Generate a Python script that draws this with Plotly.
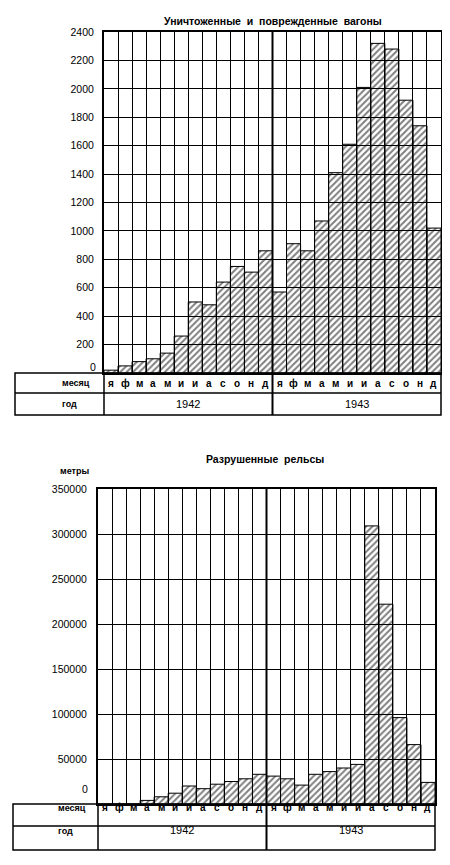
import plotly.graph_objects as go

# page body has an 8px margin; the figure is sized so that it fits in the 450x865 window
OFF = 8
W, H = 450 - 2 * OFF, 865 - 2 * OFF

months = ["я", "ф", "м", "а", "м", "и", "и", "а", "с", "о", "н", "д"]
years = ["1942", "1943"]
month_labels = months + months

wagons = [20, 50, 80, 100, 140, 260, 500, 480, 640, 750, 710, 860,
          570, 910, 860, 1070, 1410, 1610, 2010, 2320, 2280, 1920, 1740, 1020]
rails = [0, 0, 0, 4000, 8000, 12000, 20000, 17000, 22000, 25000, 28000, 33000,
         31000, 28000, 21000, 33000, 36000, 40000, 44000, 309000, 222000, 96000, 66000, 24000]

wagon_ticks = [0, 200, 400, 600, 800, 1000, 1200, 1400, 1600, 1800, 2000, 2200, 2400]
rail_ticks = [0, 50000, 100000, 150000, 200000, 250000, 300000, 350000]

title_top = "Уничтоженные  и  поврежденные  вагоны"
title_bot = "Разрушенные  рельсы"
unit_bot = "метры"
row_month = "месяц"
row_year = "год"

FONT = "Liberation Sans"


def px(x):
    return (x - OFF) / W


def py(y):
    return 1 - (y - OFF) / H


# pixel geometry (window coordinates) of the two panels
top = dict(x0=104, x1=441, y0=32, y1=373, tx0=15, trow=393, tbot=415, zero_y=367, zero_x=98)
bot = dict(x0=98, x1=435, y0=489, y1=804, tx0=13, trow=826, tbot=850, zero_y=797, zero_x=90)

xs = list(range(len(wagons)))
fig = go.Figure()

pattern = dict(shape="/", fgcolor="black", bgcolor="rgba(0,0,0,0)", size=4.5, solidity=0.45)
fig.add_trace(go.Bar(x=xs, y=wagons, width=1, xaxis="x", yaxis="y",
                     marker=dict(color="rgba(0,0,0,0)", line=dict(color="black", width=1), pattern=pattern),
                     showlegend=False, hoverinfo="skip"))
fig.add_trace(go.Bar(x=xs, y=rails, width=1, xaxis="x2", yaxis="y2",
                     marker=dict(color="rgba(0,0,0,0)", line=dict(color="black", width=1), pattern=pattern),
                     showlegend=False, hoverinfo="skip"))

bounds = [i - 0.5 for i in range(len(xs) + 1)]
xcommon = dict(range=[-0.5, len(xs) - 0.5], tickmode="array", tickvals=bounds, showticklabels=False,
               ticks="", showgrid=True, gridcolor="black", gridwidth=1, zeroline=False,
               showline=True, linecolor="black", linewidth=2, mirror=True, fixedrange=True)
ycommon = dict(showgrid=True, gridcolor="black", gridwidth=1, zeroline=False, ticks="",
               showline=True, linecolor="black", linewidth=2, mirror=True, tickmode="array",
               tickfont=dict(family=FONT, size=10.5, color="black"), tickformat="d", fixedrange=True)

fig.update_layout(
    width=W, height=H, autosize=False,
    margin=dict(l=0, r=0, t=0, b=0, autoexpand=False),
    paper_bgcolor="white", plot_bgcolor="white",
    barmode="overlay",
    xaxis=dict(domain=[px(top["x0"]), px(top["x1"])], anchor="y", **xcommon),
    yaxis=dict(domain=[py(top["y1"]), py(top["y0"])], anchor="x", range=[0, max(wagon_ticks)],
               tickvals=wagon_ticks[1:], ticklabelstandoff=6, **ycommon),
    xaxis2=dict(domain=[px(bot["x0"]), px(bot["x1"])], anchor="y2", **xcommon),
    yaxis2=dict(domain=[py(bot["y1"]), py(bot["y0"])], anchor="x2", range=[0, max(rail_ticks)],
                tickvals=rail_ticks[1:], ticklabelstandoff=7, **ycommon),
)

shapes = []
annotations = []
for g, xa, ticks in ((top, "x", wagon_ticks), (bot, "x2", rail_ticks)):
    lw = dict(color="black", width=1.5)
    # table frame
    shapes.append(dict(type="rect", xref="paper", yref="paper", x0=px(g["tx0"]), x1=px(g["x1"]),
                       y0=py(g["tbot"]), y1=py(g["y1"]), line=lw, fillcolor="rgba(0,0,0,0)"))
    shapes.append(dict(type="line", xref="paper", yref="paper", x0=px(g["tx0"]), x1=px(g["x1"]),
                       y0=py(g["trow"]), y1=py(g["trow"]), line=lw))
    shapes.append(dict(type="line", xref="paper", yref="paper", x0=px(g["x0"]), x1=px(g["x0"]),
                       y0=py(g["tbot"]), y1=py(g["y1"]), line=lw))
    # year divider through plot and table
    shapes.append(dict(type="line", xref=xa, yref="paper", x0=11.5, x1=11.5,
                       y0=py(g["tbot"]), y1=py(g["y0"]), line=dict(color="black", width=2)))
    ym = py((g["y1"] + g["trow"]) / 2)
    yy = py((g["trow"] + g["tbot"]) / 2)
    for i, m in enumerate(month_labels):
        annotations.append(dict(x=xs[i], y=ym, xref=xa, yref="paper", text="<b>%s</b>" % m,
                                showarrow=False, font=dict(family=FONT, size=10, color="black")))
    for j, yr in enumerate(years):
        annotations.append(dict(x=5.5 + 12 * j, y=yy, xref=xa, yref="paper", text=yr,
                                showarrow=False, font=dict(family=FONT, size=11, color="black")))
    lc = px((g["tx0"] + g["x0"]) / 2)
    annotations.append(dict(x=lc, y=ym, xref="paper", yref="paper", text="<b>%s</b>" % row_month,
                            showarrow=False, font=dict(family=FONT, size=9, color="black")))
    annotations.append(dict(x=lc, y=yy, xref="paper", yref="paper", text="<b>%s</b>" % row_year,
                            showarrow=False, font=dict(family=FONT, size=9, color="black")))
    # the zero label sits slightly above the baseline in the original
    annotations.append(dict(x=px(g["zero_x"]), y=py(g["zero_y"]), xref="paper", yref="paper",
                            text=str(ticks[0]), xanchor="right", showarrow=False,
                            font=dict(family=FONT, size=10.5, color="black")))

annotations.append(dict(x=px(273), y=py(13), xref="paper", yref="paper",
                        text="<b>%s</b>" % title_top.replace(" ", "\u00a0"),
                        showarrow=False, font=dict(family=FONT, size=10.5, color="black")))
annotations.append(dict(x=px(265), y=py(459), xref="paper", yref="paper",
                        text="<b>%s</b>" % title_bot.replace(" ", "\u00a0"),
                        showarrow=False, font=dict(family=FONT, size=10.5, color="black")))
annotations.append(dict(x=px(58), y=py(471), xref="paper", yref="paper",
                        text="<b>%s</b>" % unit_bot,
                        showarrow=False, font=dict(family=FONT, size=9, color="black")))

fig.update_layout(shapes=shapes, annotations=annotations)
fig.write_html("out.html")
